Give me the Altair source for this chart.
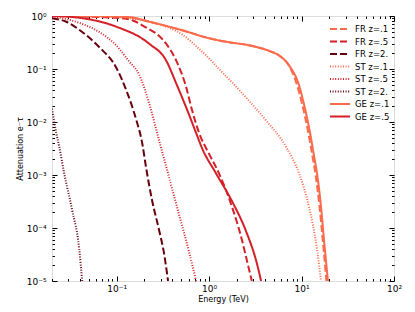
import altair as alt
import pandas as pd

# ---- data (Energy in TeV, attenuation e^-tau) ----
series_names = ["FR z=.1", "FR z=.5", "FR z=2.", "ST z=.1", "ST z=.5", "ST z=2.", "GE z=.1", "GE z=.5"]

fr01_E = [0.02, 0.0647, 0.136, 0.225, 0.51, 1.0, 1.64, 2.71, 4.45, 5.71, 7.33, 9.1, 10.2, 11.6, 13.1, 14.2, 15.7, 17.0, 18.6]
fr01_A = [1.0, 0.99, 0.95, 0.78, 0.54, 0.38, 0.32, 0.28, 0.22, 0.18, 0.115, 0.045, 0.021, 0.0075, 0.0023, 0.0010, 2.4e-4, 5.6e-5, 1e-5]

fr05_E = [0.02, 0.0647, 0.127, 0.225, 0.267, 0.343, 0.44, 0.564, 0.655, 0.78, 1.0, 1.28, 1.77, 2.27, 2.6, 2.9]
fr05_A = [1.0, 0.955, 0.89, 0.56, 0.47, 0.30, 0.145, 0.046, 0.0166, 0.0062, 0.0025, 0.00107, 2.5e-4, 5.9e-5, 2.2e-5, 1e-5]

fr2_E = [0.02, 0.0285, 0.0424, 0.0647, 0.0988, 0.127, 0.1625, 0.189, 0.208, 0.242, 0.288, 0.326, 0.36]
fr2_A = [0.91, 0.78, 0.50, 0.26, 0.107, 0.040, 0.0112, 0.0040, 0.0014, 3.3e-4, 9.1e-5, 3.3e-5, 1e-5]

st01_E = [0.02, 0.0647, 0.136, 0.225, 0.37, 0.51, 0.78, 1.0, 1.28, 1.77, 2.71, 4.13, 6.8, 9.4, 12.05, 14.7, 16.25]
st01_A = [1.0, 0.977, 0.91, 0.79, 0.60, 0.45, 0.24, 0.158, 0.10, 0.056, 0.025, 0.0107, 0.0034, 0.00107, 2.5e-4, 4.0e-5, 1e-5]

st05_E = [0.02, 0.0424, 0.0647, 0.0988, 0.136, 0.175, 0.225, 0.288, 0.37, 0.474, 0.608, 0.724]
st05_A = [0.977, 0.71, 0.50, 0.28, 0.14, 0.079, 0.0224, 0.00447, 8.9e-4, 1.78e-4, 3.5e-5, 1e-5]

st2_E = [0.02, 0.0222, 0.0239, 0.0271, 0.033, 0.0394, 0.0424]
st2_A = [0.0178, 0.0063, 0.0035, 0.00107, 2.2e-4, 4.0e-5, 1e-5]

ge01_E = [0.02, 0.0647, 0.136, 0.225, 0.51, 1.0, 1.64, 2.71, 4.45, 5.71, 7.33, 9.4, 10.6, 12.05, 13.65, 14.7, 16.25, 17.5, 19.3]
ge01_A = [1.0, 0.99, 0.95, 0.78, 0.54, 0.38, 0.32, 0.28, 0.22, 0.18, 0.117, 0.049, 0.022, 0.0079, 0.0023, 0.00107, 2.5e-4, 5.9e-5, 1e-5]

ge05_E = [0.02, 0.0424, 0.0988, 0.225, 0.343, 0.44, 0.564, 0.724, 0.84, 1.19, 1.77, 2.51, 3.3, 3.65]
ge05_A = [1.0, 0.91, 0.63, 0.30, 0.145, 0.054, 0.019, 0.0062, 0.0032, 0.00107, 3.2e-4, 8.7e-5, 2.1e-5, 1e-5]

series_E = [fr01_E, fr05_E, fr2_E, st01_E, st05_E, st2_E, ge01_E, ge05_E]
series_A = [fr01_A, fr05_A, fr2_A, st01_A, st05_A, st2_A, ge01_A, ge05_A]

colors = ["#fb6a4a", "#d42027", "#67000d", "#fb6a4a", "#d42027", "#67000d", "#fb6a4a", "#d42027"]
dashes = [[7, 3], [7, 3], [7, 3], [1, 1.6], [1, 1.6], [1, 1.6], [1, 0], [1, 0]]
widths = [2, 2, 2, 1, 1, 1, 2, 2]

x_major = [0.1, 1, 10, 100]
x_minor = [0.02, 0.03, 0.04, 0.05, 0.06, 0.07, 0.08, 0.09,
           0.2, 0.3, 0.4, 0.5, 0.6, 0.7, 0.8, 0.9,
           2, 3, 4, 5, 6, 7, 8, 9, 20, 30, 40, 50, 60, 70, 80, 90]
y_major = [1e-5, 1e-4, 1e-3, 1e-2, 1e-1, 1]
y_minor = [m * d for d in [1e-5, 1e-4, 1e-3, 1e-2, 1e-1] for m in range(2, 10)]

rows = []
for i, name in enumerate(series_names):
    for k, (e, a) in enumerate(zip(series_E[i], series_A[i])):
        rows.append({"series": name, "E": e, "A": a, "k": k, "ord": i})
df = pd.DataFrame(rows)

is_major = "abs(log(datum.value)/LN10 - round(log(datum.value)/LN10)) < 0.001"
exp_ = "round(log(datum.value)/LN10)"
label_expr = (
    f"!({is_major}) ? '' : "
    f"{exp_} == 0 ? '10⁰' : {exp_} == 1 ? '10¹' : {exp_} == 2 ? '10²' : "
    f"{exp_} == -1 ? '10⁻¹' : {exp_} == -2 ? '10⁻²' : {exp_} == -3 ? '10⁻³' : "
    f"{exp_} == -4 ? '10⁻⁴' : '10⁻⁵'"
)

tick_cond = {"condition": {"test": is_major, "value": -5}, "value": -2.5}

FONT = "DejaVu Sans"

x_scale = alt.Scale(type="log", domain=[0.02, 100], nice=False)
y_scale = alt.Scale(type="log", domain=[1e-5, 1], nice=False)

common = dict(grid=False, titleFontWeight="normal", labelFont=FONT, titleFont=FONT,
              labelFontSize=9, titleFontSize=8, domain=False, tickColor="black",
              labelColor="black", titleColor="black", labelFlush=False, tickSize=tick_cond)

x_axis = alt.Axis(values=x_major + x_minor, labelExpr=label_expr, title="Energy (TeV)",
                  labelPadding=8, titlePadding=2, **common)
y_axis = alt.Axis(values=y_major + y_minor, labelExpr=label_expr, title="Attenuation e⁻τ",
                  labelPadding=11, titlePadding=2, **common)
x_axis_top = alt.Axis(values=x_major + x_minor, labels=False, title=None, orient="top", **common)
y_axis_right = alt.Axis(values=y_major + y_minor, labels=False, title=None, orient="right", **common)

lines = alt.Chart(df).mark_line(clip=True, strokeCap="butt", interpolate="monotone").encode(
    x=alt.X("E:Q", scale=x_scale, axis=x_axis),
    y=alt.Y("A:Q", scale=y_scale, axis=y_axis),
    color=alt.Color("series:N", scale=alt.Scale(domain=series_names, range=colors), sort=series_names,
                    legend=alt.Legend(title=None, orient="none", legendX=282, legendY=7,
                                      symbolType="M-2,0H2", symbolSize=100,
                                      labelFont=FONT, labelFontSize=8.5, labelColor="black",
                                      rowPadding=1.5, labelOffset=9, padding=0)),
    strokeDash=alt.StrokeDash("series:N", scale=alt.Scale(domain=series_names, range=dashes), sort=series_names),
    strokeWidth=alt.StrokeWidth("series:N", scale=alt.Scale(domain=series_names, range=widths), sort=series_names),
    detail="series:N",
    order="k:Q",
)

frame_ticks = alt.Chart(df).mark_point(opacity=0).encode(
    x=alt.X("E:Q", scale=x_scale, axis=x_axis_top),
    y=alt.Y("A:Q", scale=y_scale, axis=y_axis_right),
)

chart = alt.layer(lines, frame_ticks).resolve_axis(x="independent", y="independent").properties(
    width=342, height=265,
    autosize="none",
    padding={"left": 44, "top": 8, "right": 13, "bottom": 23},
).configure_view(stroke="black", strokeWidth=1).configure(font=FONT)

chart.save("out.html", embed_options={"renderer": "svg", "actions": False})
